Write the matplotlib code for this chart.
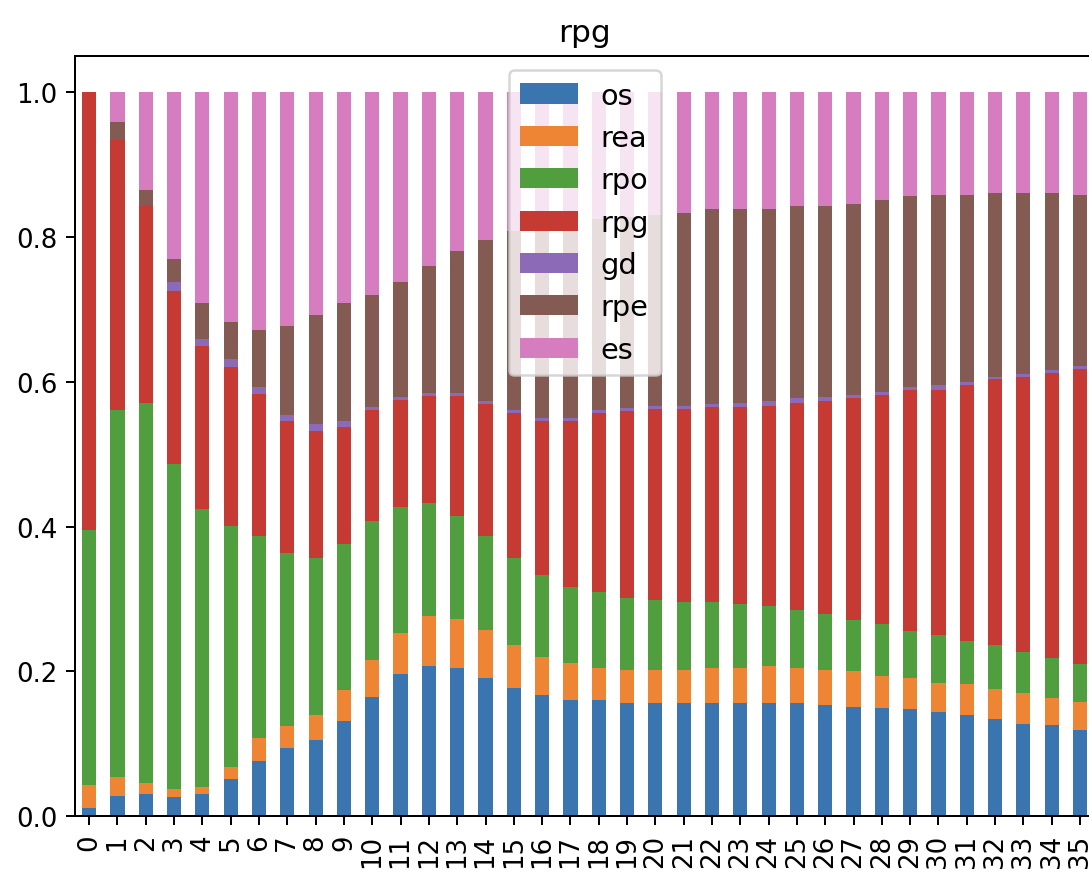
import matplotlib
matplotlib.use("Agg")
import matplotlib.pyplot as plt
import pandas as pd

# share of each state per step (each row sums to 1)
steps = list(range(36))
os_ = [.012, .028, .031, .026, .031, .052, .077, .094, .106, .132, .165, .196, .208, .205, .191, .177, .168, .160,
       .160, .157, .157, .157, .157, .157, .157, .157, .154, .151, .149, .148, .144, .140, .134, .128, .126, .119]
rea = [.031, .026, .015, .012, .009, .016, .031, .031, .034, .042, .051, .057, .068, .067, .066, .059, .052, .051,
       .045, .045, .045, .045, .048, .048, .051, .048, .048, .049, .045, .043, .040, .042, .042, .042, .038, .039]
rpo = [.352, .507, .525, .448, .384, .333, .279, .239, .216, .202, .191, .174, .157, .143, .130, .120, .113, .106,
       .105, .100, .097, .094, .091, .088, .082, .080, .077, .071, .071, .065, .066, .060, .060, .057, .055, .052]
rpg = [.605, .372, .271, .239, .225, .219, .196, .182, .176, .162, .154, .148, .147, .165, .182, .201, .213, .229,
       .247, .258, .263, .266, .269, .272, .277, .285, .294, .307, .316, .332, .339, .353, .367, .379, .393, .407]
gd = [0, 0, 0, .012, .010, .011, .009, .008, .009, .008, .004, .004, .004, .004, .004, .004, .004, .004,
      .004, .003, .004, .004, .004, .006, .007, .007, .006, .004, .005, .004, .007, .004, .004, .004, .004, .004]
rpe = [0, .026, .023, .032, .050, .052, .079, .123, .151, .163, .155, .158, .176, .196, .223, .247, .265, .268,
       .263, .264, .264, .267, .270, .268, .265, .265, .263, .263, .265, .264, .262, .259, .254, .251, .245, .237]
es = [0, .041, .135, .231, .291, .317, .329, .323, .308, .291, .280, .263, .240, .220, .204, .192, .185, .182,
      .176, .173, .170, .167, .161, .161, .161, .158, .158, .155, .149, .144, .142, .142, .139, .139, .139, .142]

colors = ["#3a75b0", "#ee8535", "#519e3e", "#c53a32", "#8d6ab8", "#845b53", "#d57dbf"]

df = pd.DataFrame({"os": os_, "rea": rea, "rpo": rpo, "rpg": rpg,
                   "gd": gd, "rpe": rpe, "es": es}, index=steps)

fig = plt.figure(figsize=(1089 / 180, 875 / 180), dpi=180)
ax = fig.add_axes([75 / 1089, 57.7 / 875, 1019.2 / 1089, 760.6 / 875])

df.plot.bar(stacked=True, ax=ax, color=colors)
ax.set_title("rpg", fontsize=12.5)
ax.tick_params(labelsize=10.4)
ax.legend(loc="upper center", fontsize=11.5)

fig.savefig("out.png", dpi=180)
